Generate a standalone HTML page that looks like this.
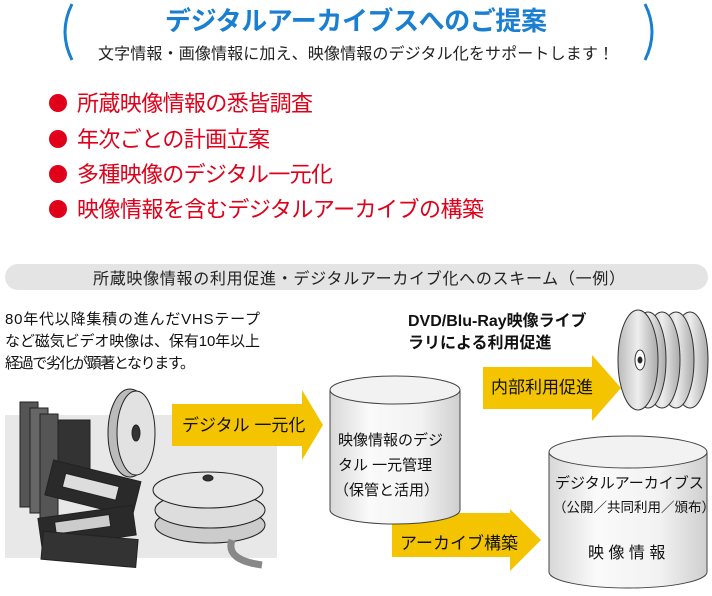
<!DOCTYPE html>
<html><head><meta charset="utf-8"><style>
body{margin:0;width:712px;height:591px;background:#fff;overflow:hidden;font-family:"Liberation Sans","Noto Sans CJK JP",sans-serif}
svg text{font-family:"Liberation Sans","Noto Sans CJK JP",sans-serif}
</style></head><body>
<svg width="712" height="591" viewBox="0 0 712 591">
<defs>
<linearGradient id="cyl" x1="0" x2="1"><stop offset="0" stop-color="#d8d8d8"/><stop offset="0.3" stop-color="#fafafa"/><stop offset="0.7" stop-color="#f2f2f2"/><stop offset="1" stop-color="#cfcfcf"/></linearGradient>
<linearGradient id="disk" x1="0" x2="1"><stop offset="0" stop-color="#bbb"/><stop offset="0.5" stop-color="#eee"/><stop offset="1" stop-color="#aaa"/></linearGradient>
</defs>
<path d="M72 4 Q58 32 72 60" fill="none" stroke="#1a7fd0" stroke-width="3"/>
<path d="M645 4 Q659 32 645 60" fill="none" stroke="#1a7fd0" stroke-width="3"/>
<text x="356" y="30" text-anchor="middle" font-size="26" font-weight="bold" fill="#1a7fd0" textLength="382">デジタルアーカイブスへのご提案</text>
<text x="356" y="59" text-anchor="middle" font-size="16" fill="#222" textLength="516">文字情報・画像情報に加え、映像情報のデジタル化をサポートします！</text>
<g fill="#e0001a" font-size="22">
<circle cx="58" cy="103" r="9"/><text x="77" y="111" textLength="236">所蔵映像情報の悉皆調査</text>
<circle cx="58" cy="139" r="9"/><text x="77" y="147" textLength="193">年次ごとの計画立案</text>
<circle cx="58" cy="174" r="9"/><text x="77" y="182" textLength="256">多種映像のデジタル一元化</text>
<circle cx="58" cy="209" r="9"/><text x="77" y="217" textLength="407">映像情報を含むデジタルアーカイブの構築</text>
</g>
<rect x="5" y="264" width="703" height="26" rx="13" fill="#e4e4e4"/>
<text x="359" y="284" text-anchor="middle" font-size="16" fill="#222" textLength="532">所蔵映像情報の利用促進・デジタルアーカイブ化へのスキーム（一例）</text>
<g font-size="15" fill="#111">
<text x="5" y="324" textLength="255">80年代以降集積の進んだVHSテープ</text>
<text x="5" y="346" textLength="255">など磁気ビデオ映像は、保有10年以上</text>
<text x="5" y="368" textLength="190">経過で劣化が顕著となります。</text>
</g>
<g font-size="16" fill="#111" font-weight="bold">
<text x="408" y="326">DVD/Blu-Ray映像ライブ</text>
<text x="408" y="348">ラリによる利用促進</text>
</g>
<rect x="5" y="415" width="272" height="143" fill="#e8e8e8"/>
<g stroke="#222" stroke-width="1">
<rect x="20" y="402" width="18" height="105" fill="#555"/>
<rect x="30" y="408" width="18" height="105" fill="#666"/>
<rect x="40" y="414" width="18" height="105" fill="#555"/>
<rect x="58" y="420" width="32" height="72" fill="#333"/>
<ellipse cx="130" cy="433" rx="22" ry="44" fill="#bbb"/>
<ellipse cx="136" cy="433" rx="19" ry="42" fill="#e2e2e2"/>
<ellipse cx="136" cy="433" rx="4" ry="8" fill="#333"/>
<g transform="rotate(14 90 500)"><rect x="45" y="470" width="90" height="36" fill="#2a2a2a"/><rect x="60" y="480" width="55" height="14" fill="#ddd"/></g>
<g transform="rotate(-8 85 530)"><rect x="40" y="512" width="95" height="30" fill="#2a2a2a"/><rect x="56" y="518" width="55" height="12" fill="#ccc"/></g>
<g transform="rotate(5 85 550)"><rect x="42" y="535" width="95" height="28" fill="#333"/></g>
<ellipse cx="210" cy="525" rx="55" ry="18" fill="#ccc"/>
<ellipse cx="210" cy="510" rx="55" ry="18" fill="#ddd"/>
<ellipse cx="208" cy="490" rx="55" ry="18" fill="#e6e6e6"/>
<ellipse cx="208" cy="478" rx="5" ry="3" fill="#333"/>
</g>
<path d="M232 540 Q225 560 262 565" fill="none" stroke="#888" stroke-width="7"/>
<g fill="#f5c400">
<path d="M172 404 H302 V390 L323 425 L302 460 V446 H172 Z"/>
<path d="M483 367 H592 V355 L621 388 L592 421 V409 H483 Z"/>
<path d="M392 513 H510 V509 L541 540 L510 571 V557 H392 Z"/>
</g>
<g font-size="17" fill="#111">
<text x="182" y="431">デジタル 一元化</text>
<text x="491" y="393">内部利用促進</text>
<text x="400" y="549">アーカイブ構築</text>
</g>
<g stroke="#444" stroke-width="1">
<path d="M330 390 V510 A65 14 0 0 0 460 510 V390" fill="url(#cyl)"/>
<ellipse cx="395" cy="390" rx="65" ry="14" fill="#f2f2f2"/>
<path d="M549 452 V572 A79 16 0 0 0 707 572 V452" fill="url(#cyl)"/>
<ellipse cx="628" cy="452" rx="79" ry="16" fill="#f2f2f2"/>
</g>
<g font-size="15" fill="#111">
<text x="338" y="445">映像情報のデジ</text>
<text x="338" y="470">タル 一元管理</text>
<text x="334" y="495">（保管と活用）</text>
<text x="555" y="488">デジタルアーカイブス</text>
<text x="553" y="512" font-size="13.5">（公開／共同利用／頒布）</text>
<text x="588" y="558" font-size="16">映 像 情 報</text>
</g>
<g stroke="#333" stroke-width="1">
<ellipse cx="690" cy="360" rx="18" ry="48" fill="url(#disk)"/>
<ellipse cx="676" cy="360" rx="18" ry="48" fill="url(#disk)"/>
<ellipse cx="662" cy="360" rx="18" ry="48" fill="url(#disk)"/>
<ellipse cx="648" cy="360" rx="18" ry="48" fill="url(#disk)"/>
<ellipse cx="638" cy="360" rx="20" ry="50" fill="url(#disk)"/>
<ellipse cx="640" cy="360" rx="5" ry="10" fill="#fff"/>
<ellipse cx="640" cy="360" rx="2" ry="3" fill="#222"/>
</g>
</svg>
</body></html>
